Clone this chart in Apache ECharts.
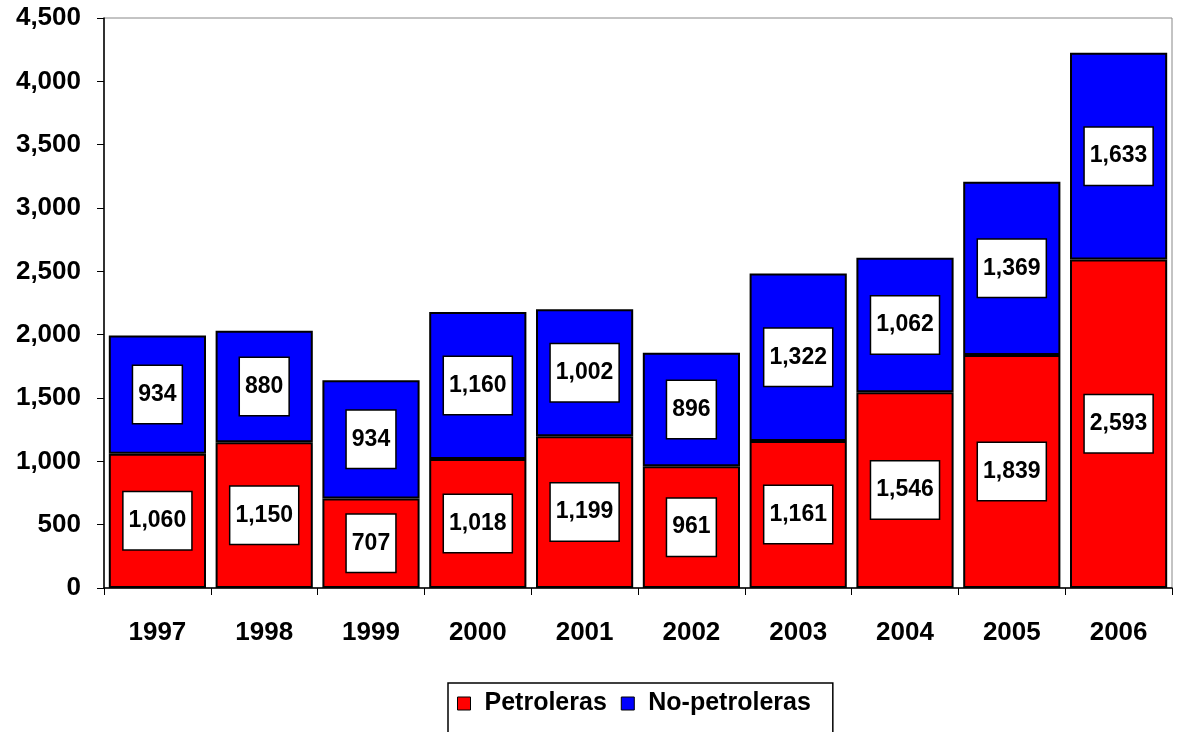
<!DOCTYPE html>
<html><head><meta charset="utf-8">
<script src="https://cdn.jsdelivr.net/npm/echarts@6/dist/echarts.min.js"></script>
<style>html,body{margin:0;padding:0;background:#fff}#c{width:1179px;height:732px}</style>
</head><body><div id="c"></div>
<script>
const categories = ['1997','1998','1999','2000','2001','2002','2003','2004','2005','2006'];
const petroleras = [1060,1150,707,1018,1199,961,1161,1546,1839,2593];
const noPetroleras = [934,880,934,1160,1002,896,1322,1062,1369,1633];
const yTicks = [0,500,1000,1500,2000,2500,3000,3500,4000,4500];

const font = 'Arial, "Liberation Sans", sans-serif';
const fmt = v => v.toLocaleString('en-US');
const labelStyle = {
  show: true, position: 'inside', formatter: p => fmt(p.value),
  color: '#000', fontFamily: font, fontWeight: 'bold', fontSize: 23, lineHeight: 25,
  backgroundColor: '#fff', borderColor: '#000', borderWidth: 1.5,
  padding: [16, 5, 16, 5]
};
const chart = echarts.init(document.getElementById('c'));
chart.setOption({
  animation: false,
  grid: { left: 104, right: 7, top: 18, bottom: 144, show: true, borderColor: '#888', borderWidth: 1 },
  legend: {
    top: 683, left: 448, itemWidth: 13, itemHeight: 13, itemGap: 14,
    borderColor: '#000', borderWidth: 1.5, padding: [8, 22, 30, 9],
    textStyle: { fontFamily: font, fontWeight: 'bold', fontSize: 25, color: '#000', padding: [0, 0, 0, 9] },
    data: [
      {name:'Petroleras', icon:'rect', itemStyle: { borderColor: '#000', borderWidth: 1 }},
      {name:'No-petroleras', icon:'rect', itemStyle: { borderColor: '#000', borderWidth: 1 }}
    ]
  },
  xAxis: {
    type: 'category', data: categories,
    axisLine: { lineStyle: { color: '#000', width: 1.5 } },
    axisTick: { show: true, length: 7, lineStyle: { color: '#000' } },
    axisLabel: { margin: 32, color: '#000', fontFamily: font, fontWeight: 'bold', fontSize: 26 }
  },
  yAxis: {
    type: 'value', min: 0, max: 4500, interval: 500,
    splitLine: { show: false },
    axisLine: { show: true, lineStyle: { color: '#000', width: 1.5 } },
    axisTick: { show: true, length: 7, lineStyle: { color: '#000' } },
    axisLabel: { margin: 23, color: '#000', fontFamily: font, fontWeight: 'bold', fontSize: 26, formatter: v => fmt(v) }
  },
  series: [
    { name: 'Petroleras', type: 'bar', stack: 's', data: petroleras, barCategoryGap: '9%',
      itemStyle: { color: '#ff0000', borderColor: '#000', borderWidth: 2 }, label: labelStyle },
    { name: 'No-petroleras', type: 'bar', stack: 's', data: noPetroleras, barCategoryGap: '9%',
      itemStyle: { color: '#0000ff', borderColor: '#000', borderWidth: 2 }, label: labelStyle }
  ]
});
</script></body></html>
